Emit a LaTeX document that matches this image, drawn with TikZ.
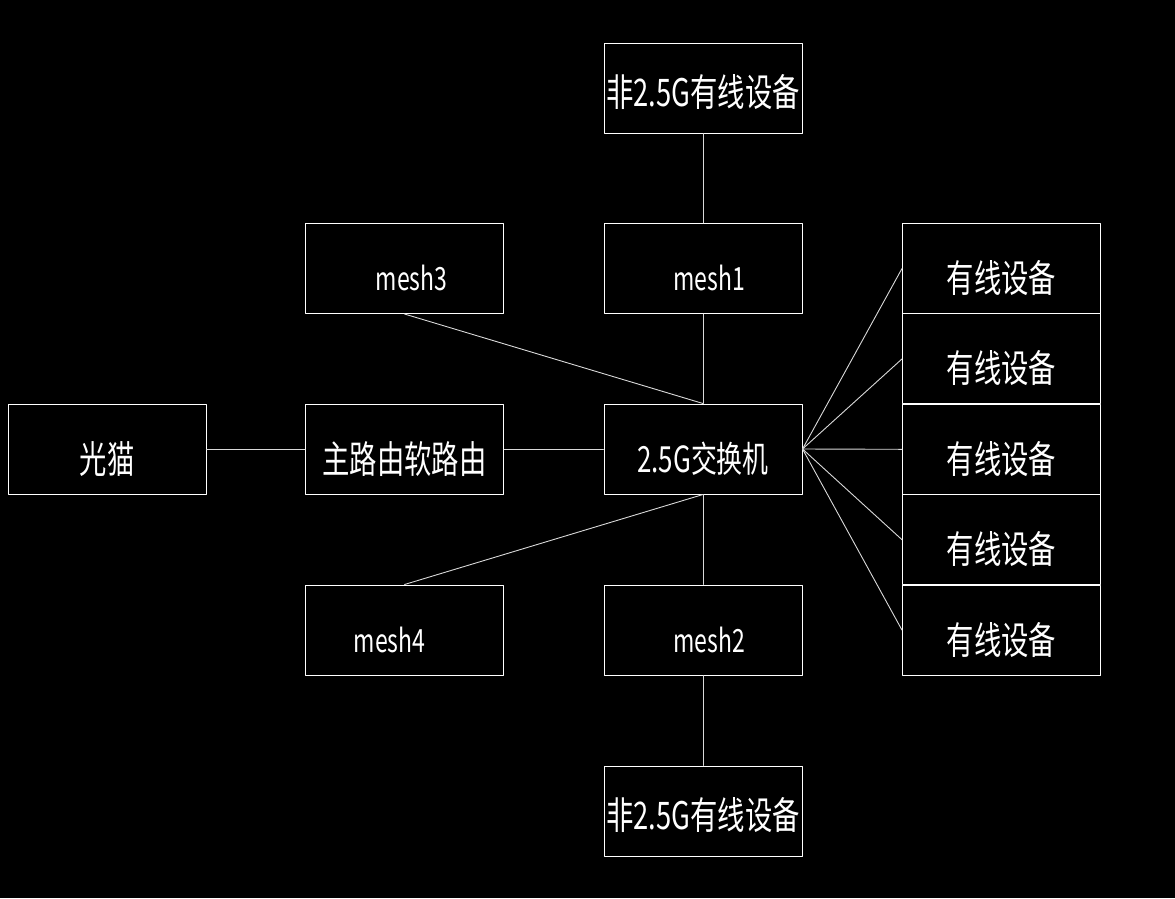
\documentclass[tikz,border=0pt]{standalone}
\usepackage{fontspec}
\newfontfamily\cjkfont{Noto Sans CJK SC}[FakeStretch=0.72]
\usetikzlibrary{calc}

\tikzset{
    box/.style={draw=white, line width=1pt, minimum width=198pt, minimum height=90pt,
        inner sep=0pt, text=white, text depth=0pt},
    bigtext/.style={font=\cjkfont\fontsize{38}{38}\selectfont, text height=48pt},
    toptext/.style={font=\cjkfont\fontsize{38}{38}\selectfont, text height=36pt},
    smalltext/.style={font=\cjkfont\fontsize{32}{32}\selectfont, text height=44pt},
    midtext/.style={font=\cjkfont\fontsize{36}{36}\selectfont, text height=46pt},
    link/.style={draw=white!85!black, line width=0.9pt}
}

\begin{document}
\begin{tikzpicture}[x=1pt, y=-1pt, line cap=round, line join=round]

% Black background fixes the page size
\fill[black] (0,0) rectangle (1175,898);
\useasboundingbox (0,0) rectangle (1175,898);

% Main chain
\node[box, bigtext] (modem) at (107,449) {光猫};
\node[box, bigtext] (router) at (404.5,449) {主路由软路由};
\node[box, midtext] (switch) at (703,449) {2.5G交换机};

% Mesh nodes
\node[box, smalltext] (mesh3) at (404.5,268.5) {\hspace*{14pt}mesh3};
\node[box, smalltext] (mesh1) at (703,268.5) {\hspace*{12pt}mesh1};
\node[box, smalltext] (mesh4) at (404.5,630) {mesh4\hspace*{30pt}};
\node[box, smalltext] (mesh2) at (703,630) {\hspace*{12pt}mesh2};

% Non 2.5G devices
\node[box, toptext] (wiredtop) at (703,88) {非2.5G有线设备};
\node[box, toptext] (wiredbot) at (703,811) {非2.5G有线设备};

% Wired devices on the right, fanned out from the switch
\foreach \k in {1,...,5} {
    \node[box, bigtext] (wired\k) at (1001.5,{268.5+90.4*(\k-1)}) {有线设备};
    \draw[link] (switch.east) -- (wired\k.west);
}

% Connectors
\draw[link] (modem.east) -- (router.west);
\draw[link] (router.east) -- (switch.west);
\draw[link] (mesh1.south) -- (switch.north);
\draw[link] (mesh3.south) -- (switch.north);
\draw[link] (switch.south) -- (mesh2.north);
\draw[link] (switch.south) -- (mesh4.north);
\draw[link] (wiredtop.south) -- (mesh1.north);
\draw[link] (mesh2.south) -- (wiredbot.north);

\end{tikzpicture}
\end{document}
